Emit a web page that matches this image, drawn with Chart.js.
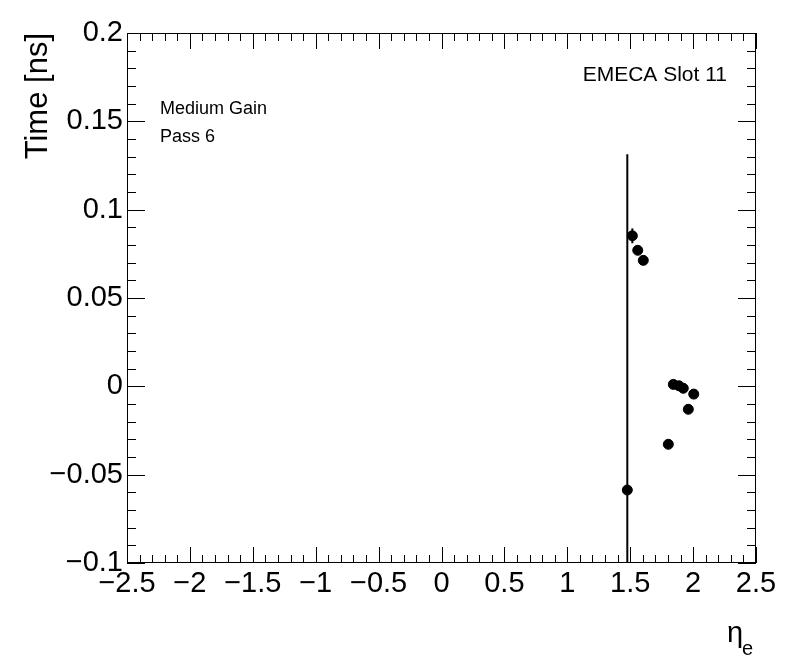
<!DOCTYPE html>
<html>
<head>
<meta charset="utf-8">
<script src="https://cdn.jsdelivr.net/npm/chart.js@4"></script>
<style>
  html, body { margin: 0; padding: 0; background: #fff; }
  #wrap { width: 796px; height: 672px; }
</style>
</head>
<body>
<div id="wrap"><canvas id="chart" width="796" height="672"></canvas></div>
<script>
// eta values, time offsets and their errors
const etaValues = [1.477, 1.517, 1.560, 1.604, 1.803, 1.843, 1.888, 1.922, 1.962, 2.005];
const timeValues = [-0.0587, 0.0852, 0.0770, 0.0713, -0.0328, 0.0011, 0.0003, -0.0011, -0.0130, -0.0044];
const timeErrors = [0.19, 0.0042, 0.001, 0.001, 0.001, 0.001, 0.001, 0.001, 0.001, 0.001];

const xTickValues = [-2.5, -2, -1.5, -1, -0.5, 0, 0.5, 1, 1.5, 2, 2.5];
const yTickValues = [-0.1, -0.05, 0, 0.05, 0.1, 0.15, 0.2];

const FONT = "'Liberation Sans', Arial, Helvetica, sans-serif";
const fmt = v => String(Number(v.toFixed(2))).replace('-', '\u2212');

// ROOT-like frame, inside ticks, error bars and labels
const rootStyle = {
  id: 'rootStyle',
  beforeDatasetsDraw(chart) {
    const { ctx, chartArea: a, scales: { x, y } } = chart;
    ctx.save();
    ctx.beginPath();
    ctx.rect(a.left, a.top, a.right - a.left, a.bottom - a.top);
    ctx.clip();
    ctx.strokeStyle = '#000';
    ctx.lineWidth = 2;
    etaValues.forEach((eta, i) => {
      const px = x.getPixelForValue(eta);
      ctx.beginPath();
      ctx.moveTo(px, y.getPixelForValue(timeValues[i] - timeErrors[i]));
      ctx.lineTo(px, y.getPixelForValue(timeValues[i] + timeErrors[i]));
      ctx.stroke();
    });
    ctx.restore();
  },
  afterDraw(chart) {
    const { ctx, chartArea: a, scales: { x, y } } = chart;
    ctx.save();
    ctx.strokeStyle = '#000';
    ctx.lineWidth = 1;
    ctx.strokeRect(a.left + 0.5, a.top + 0.5, a.right - a.left - 1, a.bottom - a.top - 1);

    ctx.beginPath();
    for (let k = -25; k <= 25; k++) {
      const v = k / 10;
      const px = Math.round(x.getPixelForValue(v)) + 0.5;
      const len = k % 5 === 0 ? 16 : 8;
      ctx.moveTo(px, a.bottom); ctx.lineTo(px, a.bottom - len);
      ctx.moveTo(px, a.top); ctx.lineTo(px, a.top + len);
    }
    for (let k = -10; k <= 20; k++) {
      const v = k / 100;
      const py = Math.round(y.getPixelForValue(v)) + 0.5;
      const len = k % 5 === 0 ? 18 : 9;
      ctx.moveTo(a.left, py); ctx.lineTo(a.left + len, py);
      ctx.moveTo(a.right, py); ctx.lineTo(a.right - len, py);
    }
    ctx.stroke();

    ctx.fillStyle = '#000';
    // y axis title
    ctx.save();
    ctx.translate(47, a.top);
    ctx.rotate(-Math.PI / 2);
    ctx.font = '31px ' + FONT;
    ctx.textAlign = 'right';
    ctx.textBaseline = 'alphabetic';
    ctx.fillText('Time [ns]', 0, 0);
    ctx.restore();

    // x axis title
    ctx.font = '29px ' + FONT;
    ctx.textAlign = 'left';
    ctx.fillText('\u03b7', 727, 642);
    ctx.font = '20px ' + FONT;
    ctx.fillText('e', 742, 655);

    ctx.font = '21px ' + FONT;
    ctx.textAlign = 'right';
    ctx.fillText('EMECA Slot 11', 727, 81);
    ctx.font = '18px ' + FONT;
    ctx.textAlign = 'left';
    ctx.fillText('Medium Gain', 160, 114);
    ctx.fillText('Pass 6', 160, 142);
    ctx.restore();
  }
};

new Chart(document.getElementById('chart'), {
  type: 'scatter',
  data: {
    datasets: [{
      data: etaValues.map((eta, i) => ({ x: eta, y: timeValues[i] })),
      backgroundColor: '#000',
      borderColor: '#000',
      pointRadius: 5,
      pointHoverRadius: 5,
    }],
  },
  options: {
    responsive: false,
    animation: false,
    events: [],
    layout: { padding: { top: 33, right: 40, left: 0, bottom: 0 } },
    plugins: { legend: { display: false }, tooltip: { enabled: false } },
    scales: {
      x: {
        type: 'linear',
        min: -2.5,
        max: 2.5,
        afterBuildTicks: s => { s.ticks = xTickValues.map(v => ({ value: v })); },
        afterFit: s => { s.height = 109; },
        grid: { display: false },
        border: { display: false },
        ticks: { color: '#000', font: { family: FONT, size: 29 }, padding: -4, maxRotation: 0, autoSkip: false, callback: v => fmt(v) },
      },
      y: {
        type: 'linear',
        min: -0.1,
        max: 0.2,
        afterBuildTicks: s => { s.ticks = yTickValues.map(v => ({ value: v })); },
        afterFit: s => { s.width = 127; },
        grid: { display: false },
        border: { display: false },
        ticks: { color: '#000', font: { family: FONT, size: 29 }, padding: -4, autoSkip: false, callback: v => fmt(v) },
      },
    },
  },
  plugins: [rootStyle],
});
</script>
</body>
</html>
